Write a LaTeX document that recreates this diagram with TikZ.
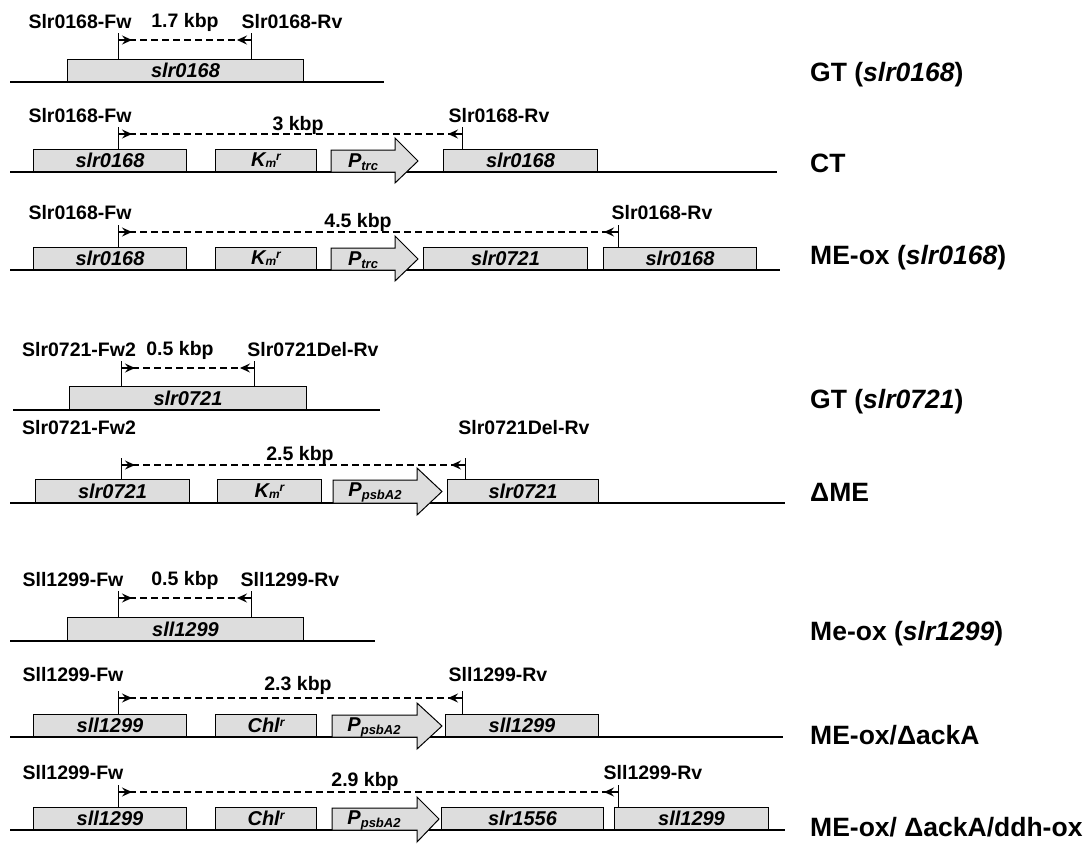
\documentclass[tikz,border=0pt]{standalone}
\usepackage{fontspec}
\setmainfont{Liberation Sans}
\usetikzlibrary{arrows.meta,calc}
\definecolor{boxgray}{RGB}{221,221,221}
\newcommand{\lowsub}[1]{\raisebox{-3pt}{\fontsize{13}{13}\selectfont #1}}
\newcommand{\highsup}[1]{\raisebox{6pt}{\fontsize{12}{12}\selectfont #1}}
\newcommand{\kmr}{K\raisebox{-1pt}{\fontsize{12}{12}\selectfont m}\highsup{r}}
\newcommand{\chlr}{Chl\highsup{r}}
\begin{document}
\begin{tikzpicture}[x=1pt,y=-1pt,
 dna/.style={line width=1.5pt},
 gene/.style={draw, line width=1pt, fill=boxgray, minimum height=22pt, inner sep=0pt, anchor=south west, font=\fontsize{20}{20}\selectfont\bfseries\itshape},
 prom/.style={draw, line width=1pt, fill=boxgray, line join=miter},
 promtext/.style={font=\fontsize{20}{20}\selectfont\bfseries\itshape, inner sep=0pt},
 plabel/.style={font=\fontsize{19.5}{20}\selectfont\bfseries, inner sep=0pt},
 strain/.style={font=\fontsize{26.5}{27}\selectfont\bfseries, anchor=west, inner sep=0pt},
 tick/.style={line width=1pt},
 amp/.style={line width=1.1pt, dash pattern=on 7pt off 4pt},
 ptip/.style={line width=1.1pt, -{Stealth[length=10pt,width=9pt,inset=3.5pt]}},
 pf/.style={insert path={ -- ++(14,0)}},
]
\useasboundingbox (0,0) rectangle (1089,847);

% ---------- Row 1 : GT (slr0168)
\draw[dna] (10,82) -- (384,82);
\node[gene, minimum width=236pt] (g1) at (67,82) {slr0168};
\coordinate (p1f) at (118,40); \coordinate (p1r) at (251,40);
\draw[tick] ($(p1f)+(0,-7)$) -- (p1f |- g1.north);
\draw[tick] ($(p1r)+(0,-7)$) -- (p1r |- g1.north);
\draw[amp] (p1f) -- (p1r);
\draw[ptip] (p1f) -- ($(p1f)+(14,0)$);
\draw[ptip] (p1r) -- ($(p1r)+(-14,0)$);
\node[plabel] (l1f) at (80,22) {Slr0168-Fw};
\node[plabel] (l1k) at (185,22) {1.7 kbp};
\node[plabel] (l1r) at (292,22) {Slr0168-Rv};
\node[strain] (s1) at (810,75) {GT (\textit{slr0168})};

% ---------- Row 2 : CT
\draw[dna] (10,172) -- (777,172);
\node[gene, minimum width=153pt] (g2a) at (33,172) {slr0168};
\node[gene, minimum width=101pt] (g2b) at (215,172) {\kmr};
\draw[prom] (331,150) -- (395,150) -- (395,138) -- (418,161) -- (395,183) -- (395,172) -- (331,172) -- cycle;
\node[promtext] (t2) at (363,162) {P\lowsub{trc}};
\node[gene, minimum width=154pt] (g2d) at (443,172) {slr0168};
\coordinate (p2f) at (118,134); \coordinate (p2r) at (462,134);
\draw[tick] ($(p2f)+(0,-7)$) -- (p2f |- g2a.north);
\draw[tick] ($(p2r)+(0,-7)$) -- (p2r |- g2d.north);
\draw[amp] (p2f) -- (p2r);
\draw[ptip] (p2f) -- ($(p2f)+(14,0)$);
\draw[ptip] (p2r) -- ($(p2r)+(-14,0)$);
\node[plabel] (l2f) at (80,116) {Slr0168-Fw};
\node[plabel] (l2k) at (298,125) {3 kbp};
\node[plabel] (l2r) at (499,116) {Slr0168-Rv};
\node[strain] (s2) at (810,163) {CT};

% ---------- Row 3 : ME-ox (slr0168)
\draw[dna] (10,270) -- (780,270);
\node[gene, minimum width=153pt] (g3a) at (33,270) {slr0168};
\node[gene, minimum width=101pt] (g3b) at (215,270) {\kmr};
\draw[prom] (331,248) -- (395,248) -- (395,236) -- (418,259) -- (395,281) -- (395,270) -- (331,270) -- cycle;
\node[promtext] (t3) at (363,260) {P\lowsub{trc}};
\node[gene, minimum width=164pt] (g3d) at (423,270) {slr0721};
\node[gene, minimum width=153pt] (g3e) at (603,270) {slr0168};
\coordinate (p3f) at (118,232); \coordinate (p3r) at (618,232);
\draw[tick] ($(p3f)+(0,-7)$) -- (p3f |- g3a.north);
\draw[tick] ($(p3r)+(0,-7)$) -- (p3r |- g3e.north);
\draw[amp] (p3f) -- (p3r);
\draw[ptip] (p3f) -- ($(p3f)+(14,0)$);
\draw[ptip] (p3r) -- ($(p3r)+(-14,0)$);
\node[plabel] (l3f) at (80,213) {Slr0168-Fw};
\node[plabel] (l3k) at (358,222) {4.5 kbp};
\node[plabel] (l3r) at (662,213) {Slr0168-Rv};
\node[strain] (s3) at (810,258) {ME-ox (\textit{slr0168})};

% ---------- Row 4 : GT (slr0721)
\draw[dna] (13,410) -- (380,410);
\node[gene, minimum width=237pt, minimum height=23pt] (g4) at (69,410) {slr0721};
\coordinate (p4f) at (121,368); \coordinate (p4r) at (254,368);
\draw[tick] ($(p4f)+(0,-7)$) -- (p4f |- g4.north);
\draw[tick] ($(p4r)+(0,-7)$) -- (p4r |- g4.north);
\draw[amp] (p4f) -- (p4r);
\draw[ptip] (p4f) -- ($(p4f)+(14,0)$);
\draw[ptip] (p4r) -- ($(p4r)+(-14,0)$);
\node[plabel] (l4f) at (79,350) {Slr0721-Fw2};
\node[plabel] (l4k) at (180,350) {0.5 kbp};
\node[plabel] (l4r) at (313,350) {Slr0721Del-Rv};
\node[strain] (s4) at (810,402) {GT (\textit{slr0721})};

% ---------- Row 5 : Delta ME
\draw[dna] (10,503) -- (785,503);
\node[gene, minimum width=154pt, minimum height=23pt] (g5a) at (35,503) {slr0721};
\node[gene, minimum width=104pt, minimum height=23pt] (g5b) at (217,503) {\kmr};
\draw[prom] (333,480) -- (417,480) -- (417,468) -- (442,491.5) -- (417,515) -- (417,503) -- (333,503) -- cycle;
\node[promtext] (t5) at (375,492) {P\lowsub{psbA2}};
\node[gene, minimum width=151pt, minimum height=23pt] (g5d) at (447,503) {slr0721};
\coordinate (p5f) at (121,465); \coordinate (p5r) at (465,465);
\draw[tick] ($(p5f)+(0,-7)$) -- (p5f |- g5a.north);
\draw[tick] ($(p5r)+(0,-7)$) -- (p5r |- g5d.north);
\draw[amp] (p5f) -- (p5r);
\draw[ptip] (p5f) -- ($(p5f)+(14,0)$);
\draw[ptip] (p5r) -- ($(p5r)+(-14,0)$);
\node[plabel] (l5f) at (79,428) {Slr0721-Fw2};
\node[plabel] (l5k) at (300,455) {2.5 kbp};
\node[plabel] (l5r) at (524,428) {Slr0721Del-Rv};
\node[strain] (s5) at (810,492) {ΔME};

% ---------- Row 6 : Me-ox (slr1299)
\draw[dna] (10,641) -- (375,641);
\node[gene, minimum width=236pt, minimum height=23pt] (g6) at (67,641) {sll1299};
\coordinate (p6f) at (118,598); \coordinate (p6r) at (251,598);
\draw[tick] ($(p6f)+(0,-7)$) -- (p6f |- g6.north);
\draw[tick] ($(p6r)+(0,-7)$) -- (p6r |- g6.north);
\draw[amp] (p6f) -- (p6r);
\draw[ptip] (p6f) -- ($(p6f)+(14,0)$);
\draw[ptip] (p6r) -- ($(p6r)+(-14,0)$);
\node[plabel] (l6f) at (73,580) {Sll1299-Fw};
\node[plabel] (l6k) at (185,580) {0.5 kbp};
\node[plabel] (l6r) at (290,580) {Sll1299-Rv};
\node[strain] (s6) at (810,634) {Me-ox (\textit{slr1299})};

% ---------- Row 7 : ME-ox/Delta ackA
\draw[dna] (10,737) -- (783,737);
\node[gene, minimum width=153pt] (g7a) at (33,737) {sll1299};
\node[gene, minimum width=101pt] (g7b) at (215,737) {\chlr};
\draw[prom] (332,715) -- (417,715) -- (417,703) -- (442,726) -- (417,749) -- (417,737) -- (332,737) -- cycle;
\node[promtext] (t7) at (374,727) {P\lowsub{psbA2}};
\node[gene, minimum width=153pt] (g7d) at (445,737) {sll1299};
\coordinate (p7f) at (118,698); \coordinate (p7r) at (462,698);
\draw[tick] ($(p7f)+(0,-7)$) -- (p7f |- g7a.north);
\draw[tick] ($(p7r)+(0,-7)$) -- (p7r |- g7d.north);
\draw[amp] (p7f) -- (p7r);
\draw[ptip] (p7f) -- ($(p7f)+(14,0)$);
\draw[ptip] (p7r) -- ($(p7r)+(-14,0)$);
\node[plabel] (l7f) at (73,675) {Sll1299-Fw};
\node[plabel] (l7k) at (298,685) {2.3 kbp};
\node[plabel] (l7r) at (498,675) {Sll1299-Rv};
\node[strain] (s7) at (810,735) {ME-ox/ΔackA};

% ---------- Row 8 : ME-ox/Delta ackA/ddh-ox
\draw[dna] (10,830) -- (785,830);
\node[gene, minimum width=153pt] (g8a) at (33,830) {sll1299};
\node[gene, minimum width=101pt] (g8b) at (215,830) {\chlr};
\draw[prom] (332,808) -- (417,808) -- (417,797) -- (439,819) -- (417,842) -- (417,830) -- (332,830) -- cycle;
\node[promtext] (t8) at (374,820) {P\lowsub{psbA2}};
\node[gene, minimum width=162pt] (g8d) at (441,830) {slr1556};
\node[gene, minimum width=154pt] (g8e) at (614,830) {sll1299};
\coordinate (p8f) at (118,792); \coordinate (p8r) at (618,792);
\draw[tick] ($(p8f)+(0,-7)$) -- (p8f |- g8a.north);
\draw[tick] ($(p8r)+(0,-7)$) -- (p8r |- g8e.north);
\draw[amp] (p8f) -- (p8r);
\draw[ptip] (p8f) -- ($(p8f)+(14,0)$);
\draw[ptip] (p8r) -- ($(p8r)+(-14,0)$);
\node[plabel] (l8f) at (73,773) {Sll1299-Fw};
\node[plabel] (l8k) at (365,781) {2.9 kbp};
\node[plabel] (l8r) at (653,773) {Sll1299-Rv};
\node[strain] (s8) at (810,827) {ME-ox/ ΔackA/ddh-ox};
\end{tikzpicture}
\end{document}
